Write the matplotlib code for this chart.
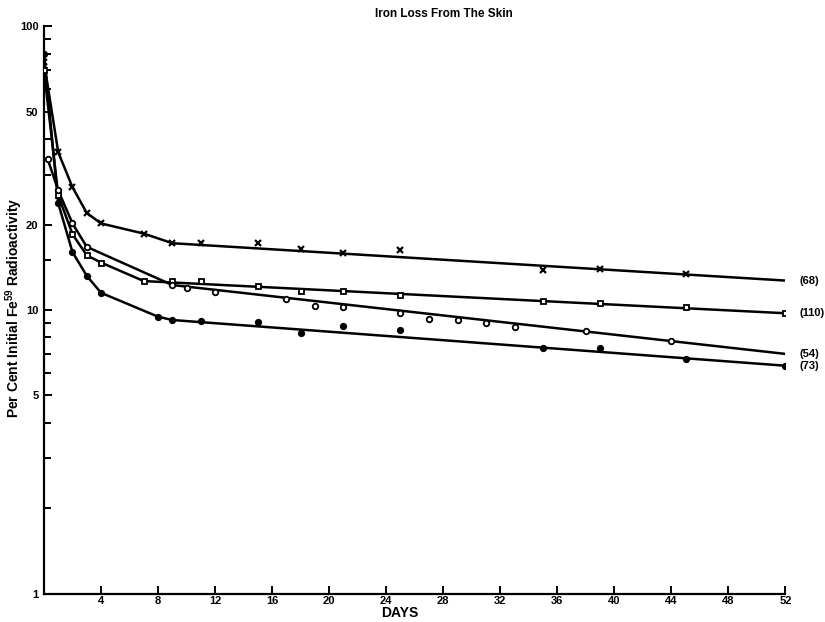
import matplotlib.pyplot as plt
from matplotlib.ticker import FixedLocator, NullFormatter

plt.rcParams['font.family'] = ['Liberation Sans', 'DejaVu Sans']
plt.rcParams['mathtext.fontset'] = 'custom'
plt.rcParams['mathtext.rm'] = 'Liberation Sans'
plt.rcParams['mathtext.bf'] = 'Liberation Sans:bold'

# data (days, per cent initial Fe59)
days_68 = [0, 1, 2, 3, 4, 7, 9, 11, 15, 18, 21, 25, 35, 39, 45]
vals_68 = [75, 36.0, 27.1, 22.0, 20.2, 18.6, 17.2, 17.2, 17.2, 16.4, 15.85, 16.3, 13.8, 13.95, 13.4]
line_days_68 = [0, 1, 2, 3, 4, 7, 9, 52]
line_vals_68 = [75, 36.0, 27.1, 22.0, 20.2, 18.6, 17.2, 12.7]

days_110 = [0, 1, 2, 3, 4, 7, 9, 11, 15, 18, 21, 25, 35, 39, 45, 52]
vals_110 = [70, 25.4, 18.5, 15.6, 14.7, 12.65, 12.65, 12.7, 12.2, 11.67, 11.67, 11.3, 10.76, 10.56, 10.27, 9.74]
line_days_110 = [0, 1, 2, 3, 4, 7, 52]
line_vals_110 = [70, 25.4, 18.5, 15.6, 14.7, 12.65, 9.74]

days_54 = [0.25, 1, 2, 3, 9, 10, 12, 17, 19, 21, 25, 27, 29, 31, 33, 38, 44]
vals_54 = [34.2, 26.4, 20.2, 16.7, 12.25, 12.0, 11.55, 10.94, 10.33, 10.27, 9.74, 9.30, 9.22, 9.02, 8.69, 8.43, 7.79]
line_days_54 = [0.25, 1, 2, 3, 9, 52]
line_vals_54 = [34.2, 26.4, 20.2, 16.7, 12.25, 7.0]

days_73 = [0, 1, 2, 3, 4, 8, 9, 11, 15, 18, 21, 25, 35, 39, 45, 52]
vals_73 = [80, 23.8, 16.0, 13.2, 11.5, 9.47, 9.22, 9.15, 9.05, 8.32, 8.80, 8.5, 7.36, 7.36, 6.72, 6.36]
line_days_73 = [0, 1, 2, 3, 4, 8, 9, 52]
line_vals_73 = [80, 23.8, 16.0, 13.2, 11.5, 9.47, 9.22, 6.36]

group_labels = ['(68)', '(110)', '(54)', '(73)']
x_ticks = [4, 8, 12, 16, 20, 24, 28, 32, 36, 40, 44, 48, 52]
y_ticks = [1, 5, 10, 20, 50, 100]
y_minor = [2, 3, 4, 6, 7, 8, 9, 15, 30, 40, 60, 70, 80, 90]

fig = plt.figure(figsize=(8.25, 6.22), dpi=100)
ax = fig.add_axes([0.0533, 0.0458, 0.8988, 0.9116])

series = [
    (days_68, vals_68, line_days_68, line_vals_68, dict(marker='x', ms=4.5, mew=1.6, color='black')),
    (days_110, vals_110, line_days_110, line_vals_110, dict(marker='s', ms=3.6, mew=1.3, mfc='white', mec='black')),
    (days_54, vals_54, line_days_54, line_vals_54, dict(marker='o', ms=4.0, mew=1.3, mfc='white', mec='black')),
    (days_73, vals_73, line_days_73, line_vals_73, dict(marker='o', ms=4.2, mew=1.0, mfc='black', mec='black')),
]

for d, v, ld, lv, mk in series:
    ax.plot(ld, lv, color='black', lw=1.8, zorder=2)
    ax.plot(d, v, ls='none', zorder=3, **mk)

ends = [line_vals_68[-1], line_vals_110[-1], line_vals_54[-1], line_vals_73[-1]]
for lab, yv in zip(group_labels, ends):
    ax.text(53.0, yv, lab, fontsize=8, fontweight='bold', va='center', ha='left', clip_on=False)

ax.set_yscale('log')
ax.set_xlim(0, 52)
ax.set_ylim(1, 100)
ax.set_xticks(x_ticks)
ax.set_xticklabels([str(t) for t in x_ticks], fontsize=8, fontweight='bold')
ax.yaxis.set_major_locator(FixedLocator(y_ticks))
ax.yaxis.set_minor_locator(FixedLocator(y_minor))
ax.yaxis.set_minor_formatter(NullFormatter())
ax.set_yticklabels([str(t) for t in y_ticks], fontsize=8, fontweight='bold')

ax.spines['top'].set_visible(False)
ax.spines['right'].set_visible(False)
ax.spines['left'].set_linewidth(1.6)
ax.spines['bottom'].set_linewidth(1.6)
ax.tick_params(axis='both', which='both', direction='in', width=1.4)
ax.tick_params(axis='y', which='major', length=6, pad=4)
ax.tick_params(axis='y', which='minor', length=5)
ax.tick_params(axis='x', which='major', length=6, pad=2)

fig.text(0.538, 0.978, 'Iron Loss From The Skin', ha='center', va='center',
         fontsize=8.5, fontweight='bold')
fig.text(0.017, 0.506, r'Per Cent Initial Fe$^{\mathbf{59}}$ Radioactivity', rotation=90,
         ha='center', va='center', fontsize=10, fontweight='bold')
fig.text(0.485, 0.014, 'DAYS', ha='center', va='center', fontsize=10, fontweight='bold')

plt.savefig('out.png', dpi=100)
